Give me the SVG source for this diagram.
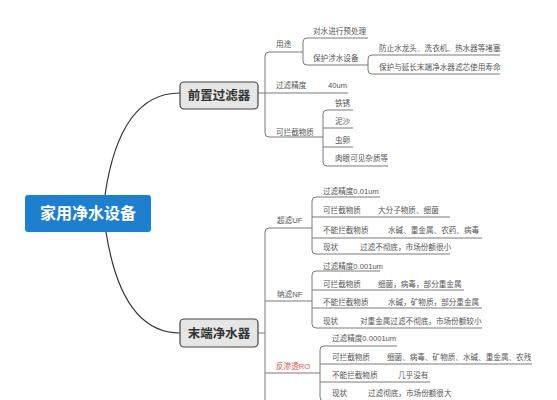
<svg xmlns="http://www.w3.org/2000/svg" width="557" height="400" viewBox="0 0 557 400">
<style>
.t{font-family:"Liberation Sans","Noto Sans CJK SC",sans-serif;font-size:7.6px;fill:#555}
.red{fill:#e0534a}
.n{font-family:"Liberation Sans","Noto Sans CJK SC",sans-serif;font-size:12.5px;font-weight:bold;fill:#333;text-anchor:middle}
.root{font-family:"Liberation Sans","Noto Sans CJK SC",sans-serif;font-size:16px;font-weight:bold;fill:#fff;text-anchor:middle}
.l{fill:none;stroke:#7a7a7a;stroke-width:1}
.c{fill:none;stroke:#333;stroke-width:1.2}
.box{fill:#e6e6e6;stroke:#444;stroke-width:1.2}
</style>
<rect width="557" height="400" fill="#fff"/>
<g id="connectors">
<path class="c" d="M105,195 Q120,93 180,93"/>
<path class="c" d="M106,232 Q122,333 180,333"/>
<path class="l" d="M303,52 H269 Q265,52 265,56 V133 Q265,137 269,137 H323"/>
<path class="l" d="M258,93 H348"/>
<path class="l" d="M368,38 H307 Q303,38 303,42 V61 Q303,65 307,65 H368"/>
<path class="l" d="M500,55 H372 Q368,55 368,59 V70 Q368,74 372,74 H500"/>
<path class="l" d="M353,110 H327 Q323,110 323,114 V162 Q323,166 327,166 H388 M323,128 H353 M323,147 H353"/>
<path class="l" d="M258,333 H265 M312,228 H269 Q265,228 265,232 V404 M265,301 H312 M265,373 H320"/>
<path class="l" d="M380,197 H316 Q312,197 312,201 V250 Q312,254 316,254 H450 M312,217 H450 M312,238 H482"/>
<path class="l" d="M380,271 H316 Q312,271 312,275 V324 Q312,328 316,328 H482 M312,290 H464 M312,308 H482"/>
<path class="l" d="M397,346 H324 Q320,346 320,350 V397 Q320,401 324,401 H452 M320,364 H532 M320,382 H430"/>
</g>
<g id="root">
<rect x="25" y="195" width="126" height="37" rx="3" fill="#1c7fd0"/>
<text class="root" x="88" y="219">家用净水设备</text>
</g>
<g id="pre-filter">
<rect class="box" x="180" y="82" width="78" height="27" rx="4"/>
<text class="n" x="219" y="100">前置过滤器</text>
</g>
<g id="pre-items">
<text class="t" x="276" y="47">用途</text>
<text class="t" x="313" y="34">对水进行预处理</text>
<text class="t" x="313" y="61">保护涉水设备</text>
<text class="t" x="379" y="51">防止水龙头、洗衣机、热水器等堵塞</text>
<text class="t" x="379" y="70">保护与延长末端净水器滤芯使用寿命</text>
<text class="t" x="276" y="88">过滤精度</text>
<text class="t" x="328" y="88">40um</text>
<text class="t" x="276" y="135">可拦截物质</text>
<text class="t" x="335" y="106">铁锈</text>
<text class="t" x="335" y="124">泥沙</text>
<text class="t" x="335" y="143">虫卵</text>
<text class="t" x="335" y="161">肉眼可见杂质等</text>
</g>
<g id="end-filter">
<rect class="box" x="180" y="319" width="78" height="28" rx="4"/>
<text class="n" x="219" y="338">末端净水器</text>
</g>
<g id="uf">
<text class="t" x="277" y="223">超滤UF</text>
<text class="t" x="323" y="194">过滤精度0.01um</text>
<text class="t" x="323" y="213">可拦截物质</text>
<text class="t" x="378" y="213">大分子物质、细菌</text>
<text class="t" x="323" y="233">不能拦截物质</text>
<text class="t" x="388" y="233">水碱、重金属、农药、病毒</text>
<text class="t" x="323" y="250">现状</text>
<text class="t" x="360" y="250">过滤不彻底，市场份额很小</text>
</g>
<g id="nf">
<text class="t" x="277" y="297">纳滤NF</text>
<text class="t" x="323" y="269">过滤精度0.001um</text>
<text class="t" x="323" y="287">可拦截物质</text>
<text class="t" x="378" y="287">细菌，病毒，部分重金属</text>
<text class="t" x="323" y="305">不能拦截物质</text>
<text class="t" x="388" y="305">水碱，矿物质，部分重金属</text>
<text class="t" x="323" y="324">现状</text>
<text class="t" x="360" y="324">对重金属过滤不彻底，市场份额较小</text>
</g>
<g id="ro">
<text class="t red" x="276" y="369">反渗透RO</text>
<text class="t" x="332" y="341">过滤精度0.0001um</text>
<text class="t" x="332" y="360">可拦截物质</text>
<text class="t" x="387" y="360">细菌、病毒、矿物质、水碱、重金属、农残</text>
<text class="t" x="332" y="378">不能拦截物质</text>
<text class="t" x="398" y="378">几乎没有</text>
<text class="t" x="332" y="396">现状</text>
<text class="t" x="368" y="396">过滤彻底，市场份额很大</text>
</g>
</svg>
